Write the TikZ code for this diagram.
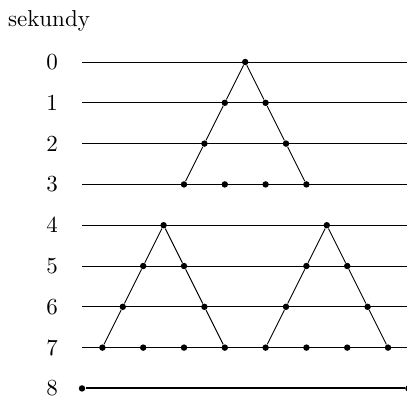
\documentclass[tikz,border=0pt]{standalone}
\begin{document}
\begin{tikzpicture}[x=0.4348pt,y=-0.4348pt,
  dot/.style={circle,fill=black,inner sep=0pt,minimum size=2.8pt},
  rowline/.style={line width=0.4pt},
  lastline/.style={line width=0.8pt},
  conn/.style={line width=0.4pt},
  lbl/.style={font=\fontsize{10}{12}\selectfont,inner sep=0pt}]
\useasboundingbox (0,0) rectangle (407,396);
\node[lbl] (title) at (49,21) {sekundy};
\foreach \r in {0,...,8} {
  \node[lbl] (lab\r) at (52,{62+40.8*\r}) {\r};
  \coordinate (L\r) at (82,{62+40.8*\r});
  \coordinate (R\r) at (408,{62+40.8*\r});
}
\foreach \r in {0,...,7} { \draw[rowline] (L\r) -- (R\r); }
% dots
\foreach \r/\c in {0/8, 1/7, 1/9, 2/6, 2/10, 3/5, 3/7, 3/9, 3/11,
  4/4, 4/12, 5/3, 5/5, 5/11, 5/13, 6/2, 6/6, 6/10, 6/14,
  7/1, 7/3, 7/5, 7/7, 7/9, 7/11, 7/13, 7/15, 8/0, 8/16} {
  \node[dot] (d\r-\c) at ({82+20.4*\c},{62+40.8*\r}) {};
}
\draw[lastline] (d8-0) -- (d8-16);
% triangles
\draw[conn] (d3-5) -- (d2-6) -- (d1-7) -- (d0-8) -- (d1-9) -- (d2-10) -- (d3-11);
\draw[conn] (d7-1) -- (d6-2) -- (d5-3) -- (d4-4) -- (d5-5) -- (d6-6) -- (d7-7);
\draw[conn] (d7-9) -- (d6-10) -- (d5-11) -- (d4-12) -- (d5-13) -- (d6-14) -- (d7-15);
\end{tikzpicture}
\end{document}
